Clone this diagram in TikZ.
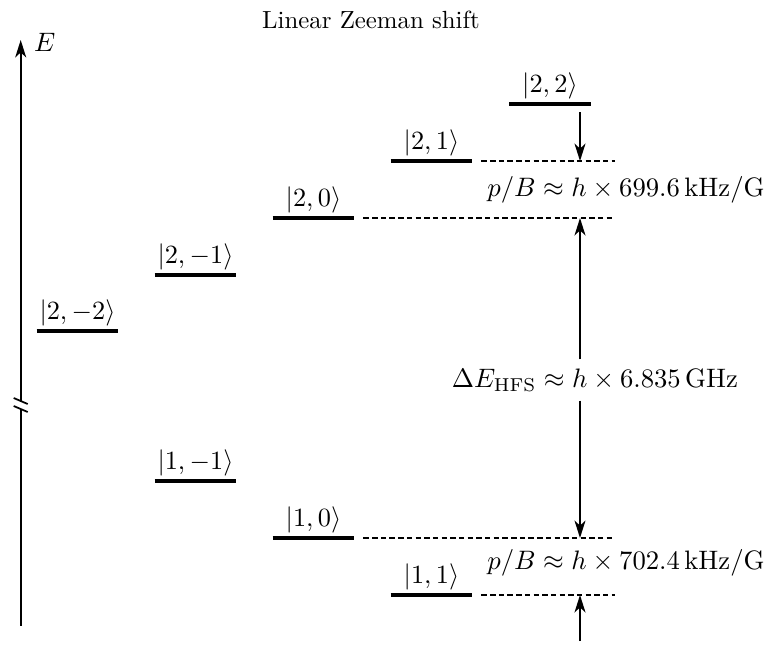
\documentclass[tikz,border=0pt]{standalone}
\usetikzlibrary{arrows.meta}
\begin{document}
\begin{tikzpicture}[x=0.403pt,y=-0.403pt,
  lvl/.style={inner sep=0pt,minimum width=32.6pt,minimum height=0pt},
  lab/.style={inner sep=1.5pt,scale=1.06},
  mtext/.style={scale=1.075},
  levelline/.style={line width=1.3pt},
  dashline/.style={line width=0.45pt,dash pattern=on 2.2pt off 1.3pt},
  arr/.style={line width=0.85pt,-{Stealth[length=7pt,width=4.4pt,inset=2pt]}},
  axisline/.style={line width=0.85pt}]
\useasboundingbox (0,0) rectangle (768,646);
% title
\node (title) at (371,20) {Linear Zeeman shift};
% axis
\coordinate (axtop) at (20.7,40);
\coordinate (axbot) at (20.7,626);
\coordinate (brk1) at (20.7,401);
\coordinate (brk2) at (20.7,409);
\draw[arr] (brk1) -- (axtop);
\draw[axisline] (brk2) -- (axbot);
\draw[line width=0.7pt] ([shift={(-7,-3)}]brk1) -- ([shift={(7,3)}]brk1);
\draw[line width=0.7pt] ([shift={(-7,-3)}]brk2) -- ([shift={(7,3)}]brk2);
\node[anchor=west,inner sep=1pt,mtext] (E) at (31,42) {$E$};
% F=2 levels
\node[lvl,label={[lab]above:$|2,-2\rangle$}] (a2m2) at (77.5,331) {};
\node[lvl,label={[lab]above:$|2,-1\rangle$}] (a2m1) at (195.5,275) {};
\node[lvl,label={[lab]above:$|2,0\rangle$}] (a20) at (313.5,218) {};
\node[lvl,label={[lab]above:$|2,1\rangle$}] (a21) at (431.5,161) {};
\node[lvl,label={[lab]above:$|2,2\rangle$}] (a22) at (550,104) {};
% F=1 levels
\node[lvl,label={[lab]above:$|1,-1\rangle$}] (a1m1) at (195.5,481) {};
\node[lvl,label={[lab]above:$|1,0\rangle$}] (a10) at (313.5,538) {};
\node[lvl,label={[lab]above:$|1,1\rangle$}] (a11) at (431.5,595) {};
\foreach \n in {a2m2,a2m1,a20,a21,a22,a1m1,a10,a11}
  \draw[levelline] (\n.west) -- (\n.east);
% dashed guide lines
\coordinate (d21) at (615,161);
\coordinate (d20) at (615,218);
\coordinate (d10) at (615,538);
\coordinate (d11) at (615,595);
\draw[dashline] ([shift={(9,0)}]a21.east) -- (d21);
\draw[dashline] ([shift={(9,0)}]a20.east) -- (d20);
\draw[dashline] ([shift={(9,0)}]a10.east) -- (d10);
\draw[dashline] ([shift={(9,0)}]a11.east) -- (d11);
% arrows
\coordinate (t21) at (580,161);
\coordinate (t20) at (580,218);
\coordinate (t10) at (580,538);
\coordinate (t11) at (580,595);
\coordinate (s22) at (580,112);
\coordinate (sbot) at (580,641);
\node[mtext] (dE) at (595,380) {$\Delta E_{\mathrm{HFS}}\approx h\times 6.835\,\mathrm{GHz}$};
\draw[arr] (s22) -- (t21);
\draw[arr] (dE.north -| t20) -- (t20);
\draw[arr] (dE.south -| t10) -- (t10);
\draw[arr] (sbot) -- (t11);
% splitting labels
\node[mtext] (p2) at (626,190) {$p/B\approx h\times 699.6\,\mathrm{kHz/G}$};
\node[mtext] (p1) at (626,563) {$p/B\approx h\times 702.4\,\mathrm{kHz/G}$};
\end{tikzpicture}
\end{document}
